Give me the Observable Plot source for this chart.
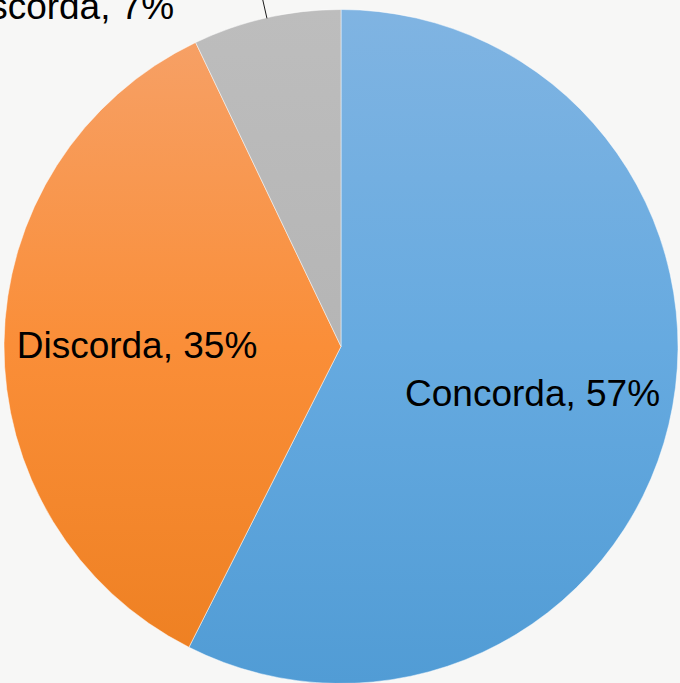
<!DOCTYPE html>
<html>
<head>
<meta charset="utf-8">
<script src="https://cdn.jsdelivr.net/npm/d3@7"></script>
<script src="https://cdn.jsdelivr.net/npm/@observablehq/plot@0.6"></script>
<style>
  html, body { margin: 0; padding: 0; background: #F7F7F6; }
  #chart svg { display: block; }
</style>
</head>
<body>
<div id="chart"></div>
<script>
// Data
const categories = ["Concorda", "Discorda", "Não concorda nem discorda"];
const values = [57.45, 35.45, 7.1];
const labels = ["Concorda, 57%", "Discorda, 35%", "Não concorda nem discorda, 7%"];
const gradients = [
  ["#80B4E2", "#66AAE0", "#519CD5"],
  ["#F6A26A", "#FA8E38", "#ED7F20"],
  ["#BDBDBD", "#B5B5B5", "#A6A6A6"]
];

const data = categories.map((c, i) => ({category: c, value: values[i], label: labels[i], i}));
const arcs = d3.pie().sort(null).value(d => d.value)(data);
arcs.forEach(a => { a.mid = (a.startAngle + a.endAngle) / 2; });

const R = 337, CX = 341, CY = 346.5;

// inside labels (big slices), outside label with leader for the small slice
const inside = arcs.filter(a => a.data.value > 20).map(a => ({
  x: 0.595 * Math.sin(a.mid), y: 0.595 * Math.cos(a.mid), label: a.data.label
}));
const outside = arcs.filter(a => a.data.value <= 20).map(a => ({
  x1: Math.sin(a.mid), y1: Math.cos(a.mid),
  x2: 1.09 * Math.sin(a.mid), y2: 1.09 * Math.cos(a.mid),
  label: a.data.label
}));

function pieMark(index, {x, y}) {
  const g = d3.create("svg:g");
  const r = x(1) - x(0);
  const defs = g.append("defs");
  arcs.forEach((a, i) => {
    const lg = defs.append("linearGradient")
      .attr("id", "grad" + i)
      .attr("gradientUnits", "userSpaceOnUse")
      .attr("x1", 0).attr("x2", 0)
      .attr("y1", y(1) - y(0)).attr("y2", y(-1) - y(0));
    gradients[i].forEach((c, k) => lg.append("stop")
      .attr("offset", k / (gradients[i].length - 1)).attr("stop-color", c));
  });
  const arc = d3.arc().innerRadius(0).outerRadius(r);
  const slices = g.append("g").attr("transform", `translate(${x(0)},${y(0)})`);
  arcs.forEach((a, i) => {
    const p = slices.append("path")
      .attr("d", arc(a))
      .attr("fill", `url(#grad${i})`)
      .attr("stroke", "#ffffff")
      .attr("stroke-width", 0.6)
      .attr("stroke-opacity", 0.8);
    p.append("title").text(`${a.data.category}: ${a.data.label}`);
  });
  return g.node();
}

const chart = Plot.plot({
  width: 680,
  height: 683,
  margin: 0,
  style: {background: "#F7F7F6", fontFamily: "'Liberation Sans', Arial, sans-serif", overflow: "hidden"},
  x: {domain: [-1, 1], range: [CX - R, CX + R], axis: null},
  y: {domain: [-1, 1], range: [CY + R, CY - R], axis: null},
  marks: [
    pieMark,
    Plot.link(outside, {x1: "x1", y1: "y1", x2: "x2", y2: "y2", stroke: "#000", strokeWidth: 0.9}),
    Plot.text(inside, {x: "x", y: "y", text: "label", fontSize: 37, fill: "#000", textAnchor: "middle", lineAnchor: "middle", dx: -4, dy: 1}),
    Plot.text(outside, {x: "x2", y: "y2", text: "label", fontSize: 37, fill: "#000", textAnchor: "end", lineAnchor: "bottom", dx: -86, dy: 30})
  ]
});
document.getElementById("chart").appendChild(chart);
</script>
</body>
</html>
